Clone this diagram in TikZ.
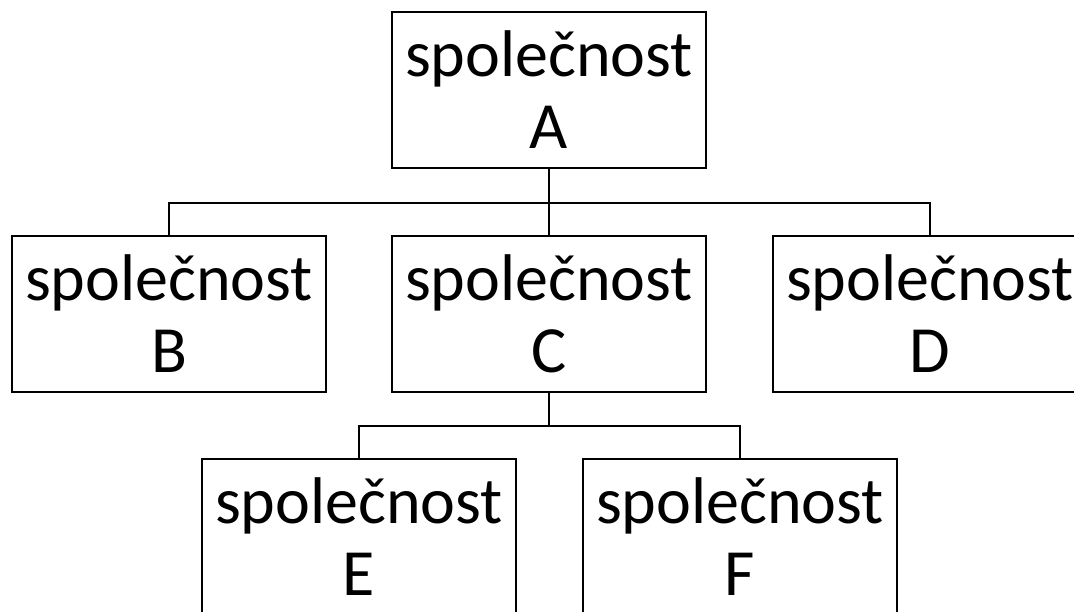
\documentclass[tikz,border=0pt]{standalone}
\usepackage{fontspec}
\setmainfont{Carlito}
\begin{document}
\begin{tikzpicture}[x=1pt,y=-1pt,
  firm/.style={draw, line width=2pt, rectangle, minimum width=314pt, minimum height=156pt,
    inner sep=0pt, align=center, font=\fontsize{66}{72}\selectfont},
  link/.style={line width=2pt}]
\useasboundingbox (0,0) rectangle (1074,611);
\clip (0,0) rectangle (1074,611);
\node[firm] (A) at (549,90) {společnost\\A};
\node[firm] (B) at (169,314) {společnost\\B};
\node[firm] (C) at (549,314) {společnost\\C};
\node[firm] (D) at (930,314) {společnost\\D};
\node[firm] (E) at (359,537) {společnost\\E};
\node[firm] (F) at (740,537) {společnost\\F};
\coordinate (busA) at (549,203);
\coordinate (busC) at (549,426);
\draw[link] (A.south) -- (busA);
\draw[link] (B.north) |- (busA) -| (D.north);
\draw[link] (C.north) -- (busA);
\draw[link] (C.south) -- (busC);
\draw[link] (E.north) |- (busC) -| (F.north);
\end{tikzpicture}
\end{document}
